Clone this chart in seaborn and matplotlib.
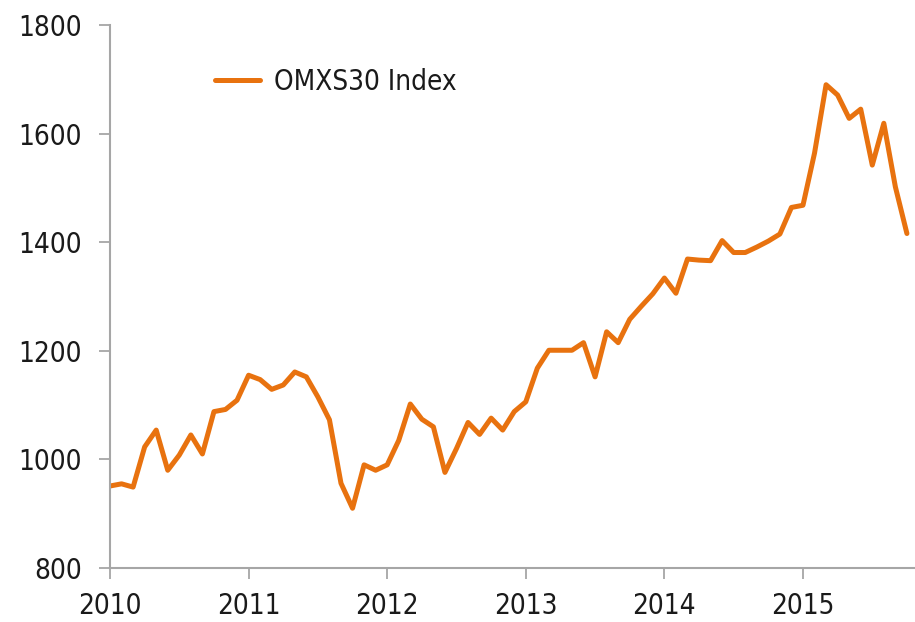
import numpy as np
import pandas as pd
import matplotlib
matplotlib.use("Agg")
import matplotlib.pyplot as plt
import seaborn as sns

# Monthly OMXS30 index values, Jan 2010 .. Oct 2015
values = [951, 955, 949, 1023, 1054, 980, 1008, 1045, 1010, 1088, 1092, 1109,
          1155, 1147, 1129, 1137, 1161, 1152, 1115, 1073, 956, 910, 990, 980,
          990, 1035, 1102, 1074, 1060, 976, 1020, 1068, 1046, 1076, 1054, 1088,
          1106, 1168, 1201, 1201, 1201, 1215, 1152, 1235, 1215, 1258, 1282, 1305,
          1334, 1306, 1369, 1367, 1366, 1403, 1381, 1381, 1391, 1402, 1415, 1464,
          1468, 1564, 1690, 1671, 1628, 1645, 1542, 1619, 1502, 1416]
start_year = 2010
series_name = "OMXS30 Index"
year_ticks = [2010, 2011, 2012, 2013, 2014, 2015]
y_ticks = [800, 1000, 1200, 1400, 1600, 1800]

t = start_year + np.arange(len(values)) / 12.0
df = pd.DataFrame({"t": t, "value": values, "series": series_name})

sns.set_theme(style="white")
plt.rcParams["font.family"] = ["DejaVu Sans"]

fig = plt.figure(figsize=(9.15, 6.22), dpi=100)
ax = fig.add_axes([110 / 915, 1 - 568 / 622, 1 - 110 / 915, (568 - 25) / 622])

orange = "#E8720F"
sns.lineplot(data=df, x="t", y="value", hue="series", palette=[orange],
             linewidth=3.6, ax=ax, legend=True)

ax.set_xlim(2010, 2010 + 69.7 / 12)
ax.set_ylim(800, 1800)
ax.set_xticks(year_ticks)
ax.set_xticklabels([str(y) for y in year_ticks])
ax.set_yticks(y_ticks)
ax.set_xlabel("")
ax.set_ylabel("")

for s in ["top", "right"]:
    ax.spines[s].set_visible(False)
for s in ["left", "bottom"]:
    ax.spines[s].set_color("#a6a6a6")
    ax.spines[s].set_linewidth(1.5)

ax.tick_params(axis="both", which="major", direction="out", length=8,
               width=1.3, color="#a6a6a6", labelsize=20, labelcolor="#1a1a1a",
               bottom=True, left=True)
ax.tick_params(axis="y", pad=12)
ax.tick_params(axis="x", pad=9)
for lab in ax.get_xticklabels() + ax.get_yticklabels():
    lab.set_fontstretch("condensed")

leg = ax.legend(loc="center left", bbox_to_anchor=(0.13, 0.895), frameon=False,
                borderpad=0, borderaxespad=0, handlelength=1.65,
                handletextpad=0.5, fontsize=20)
for txt in leg.get_texts():
    txt.set_color("#1a1a1a")
    txt.set_fontstretch("condensed")
for h in leg.get_lines():
    h.set_linewidth(3.6)

fig.savefig("out.png", dpi=100)
